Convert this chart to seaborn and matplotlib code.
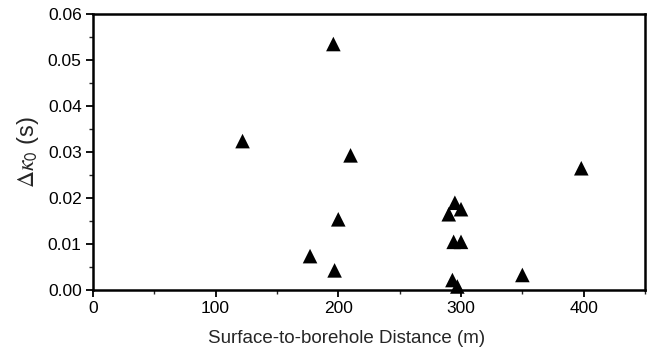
import matplotlib
matplotlib.use("Agg")
import matplotlib.pyplot as plt
import seaborn as sns
import pandas as pd
from matplotlib.ticker import MultipleLocator

# distance (m) vs delta kappa_0 (s)
distance = [122, 196, 210, 200, 177, 197,
            290, 295, 300, 294, 300, 293, 297,
            350, 398]
dkappa = [0.0324, 0.0535, 0.0293, 0.0154, 0.0074, 0.0043,
          0.0165, 0.0190, 0.0176, 0.0105, 0.0105, 0.0022, 0.0008,
          0.0033, 0.0265]

x_ticks = [0, 100, 200, 300, 400]
y_ticks = [0.00, 0.01, 0.02, 0.03, 0.04, 0.05, 0.06]

sns.set_style("ticks")
plt.rcParams['font.family'] = ['Liberation Sans', 'DejaVu Sans']
plt.rcParams['mathtext.fontset'] = 'stix'

df = pd.DataFrame({'distance': distance, 'dkappa': dkappa})

fig = plt.figure(figsize=(6.49, 3.53), dpi=100)
ax = fig.add_axes([0.143, 0.178, 0.851, 0.782])
sns.scatterplot(data=df, x='distance', y='dkappa', marker='^', s=110,
                color='black', edgecolor='none', ax=ax, clip_on=False, zorder=3)

ax.set_xlim(0, 450)
ax.set_ylim(0, 0.06)
ax.set_xticks(x_ticks)
ax.set_yticks(y_ticks)
ax.set_yticklabels([f'{v:.2f}' for v in y_ticks])
ax.xaxis.set_minor_locator(MultipleLocator(50))
ax.yaxis.set_minor_locator(MultipleLocator(0.005))
ax.tick_params(which='major', direction='out', length=5, width=1.3, labelsize=12.5,
               colors='black', top=False, right=False, pad=3)
ax.tick_params(which='minor', direction='out', length=3, width=1.0, top=False, right=False)
for side in ['top', 'right', 'bottom', 'left']:
    ax.spines[side].set_visible(True)
    ax.spines[side].set_linewidth(1.8)
    ax.spines[side].set_color('black')

ax.set_xlabel('Surface-to-borehole Distance (m)', fontsize=13.5)
ax.xaxis.set_label_coords(0.46, -0.145)
ax.set_ylabel(r'$\Delta\kappa_\mathsf{0}$ (s)', fontsize=17, labelpad=5)

fig.savefig('out.png', dpi=100)
